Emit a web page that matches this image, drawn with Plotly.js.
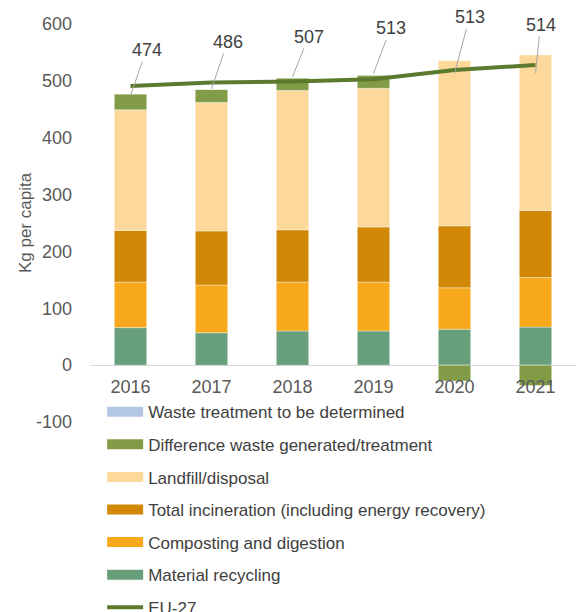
<!DOCTYPE html>
<html>
<head>
<meta charset="utf-8">
<script src="https://cdn.plot.ly/plotly-3.0.1.min.js"></script>
<style>html,body{margin:0;padding:0;background:#fff;}#chart{width:576px;height:612px;}</style>
</head>
<body>
<div id="chart"></div>
<script>
var years = ['2016', '2017', '2018', '2019', '2020', '2021'];
var recycling = [66, 57, 60, 60, 63, 67];
var composting = [80, 84, 86, 86, 73, 87];
var incineration = [91, 95, 92, 97, 109, 118];
var landfill = [212, 226, 245, 244, 291, 274];
var difference = [28, 23, 22, 23, -28, -36];
var toBeDetermined = [0, 0, 0, 0, 0, 0];
var eu27 = [491, 497, 499, 503, 519, 528];
var totals = [474, 486, 507, 513, 513, 514];
var totalLabels = ['474', '486', '507', '513', '513', '514'];
var yTickVals = [-100, 0, 100, 200, 300, 400, 500, 600];
var yTickText = ['-100', '0', '100', '200', '300', '400', '500', '600'];

var names = ['Material recycling', 'Composting and digestion', 'Total incineration (including energy recovery)',
             'Landfill/disposal', 'Difference waste generated/treatment', 'Waste treatment to be determined'];
var colors = ['#689f7b', '#f8a91b', '#d08806', '#fcd89b', '#819b47', '#b4c6e6'];
var series = [recycling, composting, incineration, landfill, difference, toBeDetermined];

var traces = [];
for (var i = 0; i < series.length; i++) {
  traces.push({
    type: 'bar', x: years, y: series[i], name: names[i],
    marker: {color: colors[i], line: {color: 'rgba(255,255,255,0.6)', width: 0.6}},
    showlegend: false, hoverinfo: 'x+y+name'
  });
}
traces.push({
  type: 'scatter', mode: 'lines', x: years, y: eu27, name: 'EU-27',
  line: {color: '#5b7a2e', width: 4}, showlegend: false
});
// legend entries (wide rectangle symbols)
var legendOrder = [5, 4, 3, 2, 1, 0];
for (var k = 0; k < legendOrder.length; k++) {
  var j = legendOrder[k];
  traces.push({
    type: 'scatter', mode: 'lines', x: [years[0]], y: [null], name: names[j],
    line: {color: colors[j], width: 10}, legendgroup: 'g' + k, legendrank: k + 1,
    hoverinfo: 'skip'
  });
}
traces.push({
  type: 'scatter', mode: 'lines', x: [years[0]], y: [null], name: 'EU-27',
  line: {color: '#5b7a2e', width: 4}, legendgroup: 'g6', legendrank: 7, hoverinfo: 'skip'
});

var offs = [[16, -46], [16, -47], [16, -40], [17, -45], [15, -56], [5, -48]];
var annotations = [];
for (var a = 0; a < years.length; a++) {
  annotations.push({
    x: a, y: totals[a], xref: 'x', yref: 'y', text: totalLabels[a],
    showarrow: true, arrowhead: 0, arrowwidth: 1, arrowcolor: '#a6a6a6',
    ax: offs[a][0], ay: offs[a][1], standoff: 0,
    font: {family: 'Liberation Sans, Arial, sans-serif', size: 18, color: '#404040'}
  });
}

var layout = {
  width: 576, height: 612,
  margin: {l: 90, r: 0, t: 24, b: 190, autoexpand: false},
  paper_bgcolor: '#ffffff', plot_bgcolor: '#ffffff',
  barmode: 'relative', bargap: 0.6,
  font: {family: 'Liberation Sans, Arial, sans-serif', size: 16, color: '#595959'},
  xaxis: {
    type: 'category', range: [-0.5, 5.5], autorange: false,
    anchor: 'free', position: 100 / 700,
    showline: false, showgrid: false, zeroline: false, ticks: '',
    tickfont: {size: 18, color: '#595959'}, ticklabelstandoff: 9
  },
  yaxis: {
    range: [-100, 600], autorange: false, tickmode: 'array',
    tickvals: yTickVals, ticktext: yTickText, showgrid: false,
    zeroline: true, zerolinecolor: '#d9d9d9', zerolinewidth: 1,
    showline: false, ticks: '', ticklabelstandoff: 17,
    tickfont: {size: 18, color: '#595959'},
    title: {text: 'Kg per capita', font: {size: 17, color: '#595959'}, standoff: 0}
  },
  showlegend: true,
  legend: {
    x: 0.025, xanchor: 'left', y: 0.07, yanchor: 'top',
    orientation: 'v', traceorder: 'grouped', tracegroupgap: 7.5,
    itemwidth: 36, bgcolor: 'rgba(0,0,0,0)',
    font: {family: 'Liberation Sans, Arial, sans-serif', size: 17, color: '#404040'}
  },
  annotations: annotations
};

Plotly.newPlot('chart', traces, layout, {displayModeBar: false, staticPlot: true});
</script>
</body>
</html>
